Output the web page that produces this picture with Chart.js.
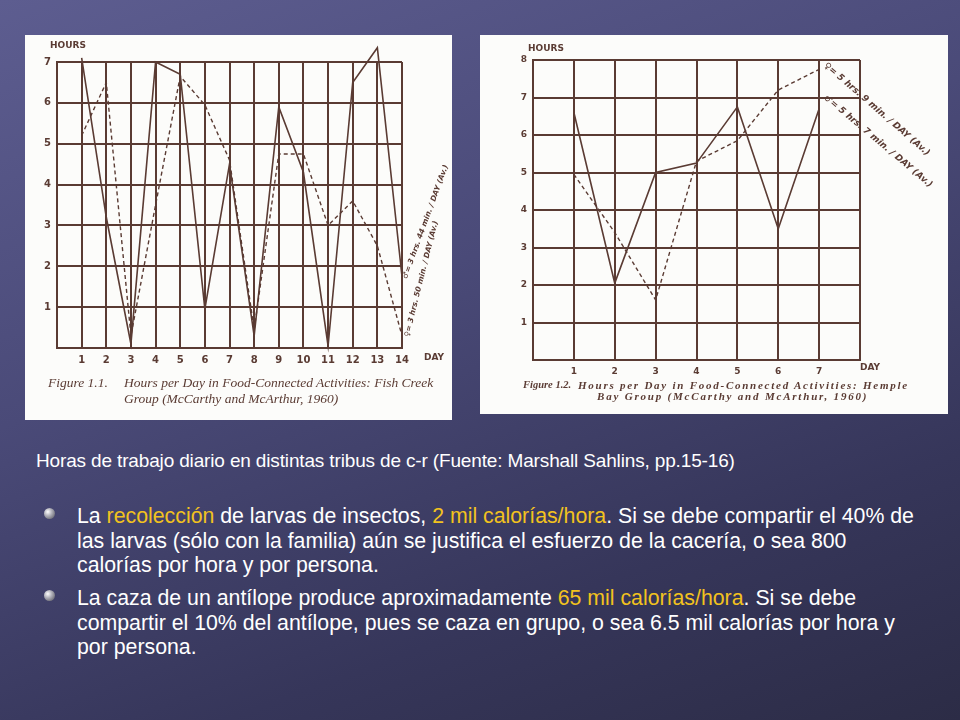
<!DOCTYPE html>
<html>
<head>
<meta charset="utf-8">
<script src="https://cdn.jsdelivr.net/npm/chart.js@4.4.1/dist/chart.umd.min.js"></script>
<style>
  html, body { margin: 0; padding: 0; }
  body {
    width: 960px; height: 720px; overflow: hidden; position: relative;
    background: linear-gradient(160deg, #5d5d90 0%, #4a4a78 40%, #36365a 75%, #2c2c46 100%);
    font-family: "Liberation Sans", Arial, sans-serif;
  }
  .box { position: absolute; background: #fcfcfa; }
  .box canvas { position: absolute; left: 0; top: 0; }
  .fig { position: absolute; font-family: "Liberation Serif", serif; font-style: italic; color: #5a3b33; white-space: nowrap; }
  .cap { position: absolute; left: 36px; top: 450px; color: #fff; font-size: 19px; letter-spacing: -0.15px; white-space: nowrap; }
  .bul { position: absolute; left: 77px; color: #fff; font-size: 21.3px; line-height: 24.5px; white-space: nowrap; }
  .bul b { font-weight: normal; color: #f2c21e; }
  .dot { position: absolute; left: 44px; width: 11px; height: 11px; border-radius: 50%;
    background: radial-gradient(circle at 35% 35%, #ffffff 0%, #b8b8c0 35%, #4a4a55 100%); }
</style>
</head>
<body>

<div class="box" style="left:25px;top:35px;width:427px;height:385px;">
  <canvas id="fishCreek" width="427" height="385"></canvas>
  <div class="fig" style="left:23px;top:340px;font-size:13.5px;">Figure 1.1.</div>
  <div class="fig" style="left:99px;top:340px;font-size:13.5px;">Hours per Day in Food-Connected Activities: Fish Creek</div>
  <div class="fig" style="left:99px;top:356px;font-size:13.5px;">Group (McCarthy and McArthur, 1960)</div>
</div>

<div class="box" style="left:480px;top:35px;width:468px;height:379px;">
  <canvas id="hempleBay" width="468" height="379"></canvas>
  <div class="fig" style="left:43px;top:344px;font-size:10.5px;font-weight:bold;letter-spacing:0px;">Figure 1.2.</div>
  <div class="fig" style="left:98px;top:344px;font-size:11px;font-weight:bold;letter-spacing:1.75px;">Hours per Day in Food-Connected Activities: Hemple</div>
  <div class="fig" style="left:117px;top:355px;font-size:11px;font-weight:bold;letter-spacing:1.8px;">Bay Group (McCarthy and McArthur, 1960)</div>
</div>

<div class="cap">Horas de trabajo diario en distintas tribus de c-r (Fuente: Marshall Sahlins, pp.15-16)</div>

<div class="dot" style="top:508px;"></div>
<div class="bul" style="top:504px;">La <b>recolección</b> de larvas de insectos, <b>2 mil calorías/hora</b>. Si se debe compartir el 40% de<br>las larvas (sólo con la familia) aún se justifica el esfuerzo de la cacería, o sea 800<br>calorías por hora y por persona.</div>

<div class="dot" style="top:590px;"></div>
<div class="bul" style="top:586px;">La caza de un antílope produce aproximadamente <b>65 mil calorías/hora</b>. Si se debe<br>compartir el 10% del antílope, pues se caza en grupo, o sea 6.5 mil calorías por hora y<br>por persona.</div>

<script>
// Fish Creek group, 14 days
var fishDays = [1, 2, 3, 4, 5, 6, 7, 8, 9, 10, 11, 12, 13, 14];
var fishMen = [7.1, 3.2, 0.1, 7.0, 6.7, 0.95, 4.5, 0.3, 5.9, 4.3, 0.05, 6.5, 7.35, 1.75];
var fishWomen = [5.2, 6.5, 0.3, 3.5, 6.65, 5.95, 4.6, 0.45, 4.75, 4.75, 3.0, 3.6, 2.5, 0.3];
var fishLabels = ['\u2642= 3 hrs. 44 min. / DAY (Av.)', '\u2640= 3 hrs. 50 min. / DAY (Av.)'];

// Hemple Bay group, 7 days
var hempleDays = [1, 2, 3, 4, 5, 6, 7];
var hempleMen = [6.6, 2.05, 5.0, 5.25, 6.75, 3.5, 6.7];
var hempleWomen = [4.95, 3.4, 1.6, 5.3, 5.85, 7.2, 7.75];
var hempleLabels = ['\u2640= 5 hrs. 9 min. / DAY (Av.)', '\u2642= 5 hrs. 7 min. / DAY (Av.)'];

var ink = '#5a3b33';

function pts(days, vals) {
  return days.map(function (d, i) { return { x: d, y: vals[i] }; });
}

// extra text: HOURS / DAY labels and the rotated averages next to the line ends
var notes = {
  id: 'notes',
  afterDraw: function (chart) {
    var o = chart.options.plugins.notes;
    var ctx = chart.ctx, a = chart.chartArea;
    var xs = chart.scales.x, ys = chart.scales.y;
    ctx.save();
    ctx.fillStyle = ink;
    ctx.font = 'bold 9px "DejaVu Sans", sans-serif';
    ctx.textBaseline = 'middle';
    ctx.fillText('HOURS', a.left + o.hoursDx, a.top + o.hoursDy);
    ctx.fillText('DAY', a.right + o.dayDx, a.bottom + o.dayDy);
    o.tags.forEach(function (t) {
      ctx.save();
      ctx.translate(xs.getPixelForValue(t.x) + t.dx, ys.getPixelForValue(t.y) + t.dy);
      ctx.rotate(t.angle * Math.PI / 180);
      ctx.font = o.tagFont;
      ctx.textBaseline = 'middle';
      ctx.fillText(t.text, 0, 0);
      ctx.restore();
    });
    ctx.restore();
  }
};

function makeChart(id, days, men, women, xMax, yMax, pad, yWidth, xHeight, tickSize, extra) {
  return new Chart(document.getElementById(id), {
    type: 'line',
    data: {
      datasets: [
        { data: pts(days, men), borderColor: ink, borderWidth: 1.6, pointRadius: 0, tension: 0, clip: false },
        { data: pts(days, women), borderColor: ink, borderWidth: 1.4, borderDash: [4, 3], pointRadius: 0, tension: 0, clip: false }
      ]
    },
    options: {
      responsive: false,
      animation: false,
      layout: { padding: pad },
      plugins: { legend: { display: false }, tooltip: { enabled: false }, notes: extra },
      scales: {
        x: {
          type: 'linear', min: 0, max: xMax,
          afterFit: function (s) { s.height = xHeight; },
          grid: { color: ink, lineWidth: 2, drawTicks: false },
          border: { color: ink, width: 2 },
          ticks: {
            stepSize: 1, padding: 6, color: ink, maxRotation: 0, autoSkip: false,
            font: { family: 'DejaVu Sans', size: tickSize, weight: 'bold' },
            callback: function (v) { return (v > 0 && days.indexOf(v) >= 0) ? v : ''; }
          }
        },
        y: {
          min: 0, max: yMax,
          afterFit: function (s) { s.width = yWidth; },
          grid: { color: ink, lineWidth: 2, drawTicks: false },
          border: { color: ink, width: 2 },
          ticks: {
            stepSize: 1, padding: 6, color: ink,
            font: { family: 'DejaVu Sans', size: tickSize, weight: 'bold' },
            callback: function (v) { return v > 0 ? v : ''; }
          }
        }
      }
    },
    plugins: [notes]
  });
}

makeChart('fishCreek', fishDays, fishMen, fishWomen, 14, 7,
  { left: 0, right: 50, top: 27, bottom: 0 }, 32, 72, 10,
  {
    hoursDx: -7, hoursDy: -16, dayDx: 22, dayDy: 10,
    tagFont: 'bold italic 7.5px "DejaVu Sans", sans-serif',
    tags: [
      { x: 14, y: fishMen[13], dx: 3, dy: 2, angle: -70, text: fishLabels[0] },
      { x: 14, y: fishWomen[13], dx: 5, dy: 1, angle: -76, text: fishLabels[1] }
    ]
  });

makeChart('hempleBay', hempleDays, hempleMen, hempleWomen, 8, 8,
  { left: 0, right: 88, top: 25, bottom: 0 }, 53, 54, 9,
  {
    hoursDx: -5, hoursDy: -11, dayDx: 0, dayDy: 8,
    tagFont: 'bold italic 9px "DejaVu Sans", sans-serif',
    tags: [
      { x: 7, y: hempleWomen[6], dx: 6, dy: -5, angle: 41, text: hempleLabels[0] },
      { x: 7, y: hempleMen[6], dx: 6, dy: -12, angle: 40, text: hempleLabels[1] }
    ]
  });
</script>
</body>
</html>
